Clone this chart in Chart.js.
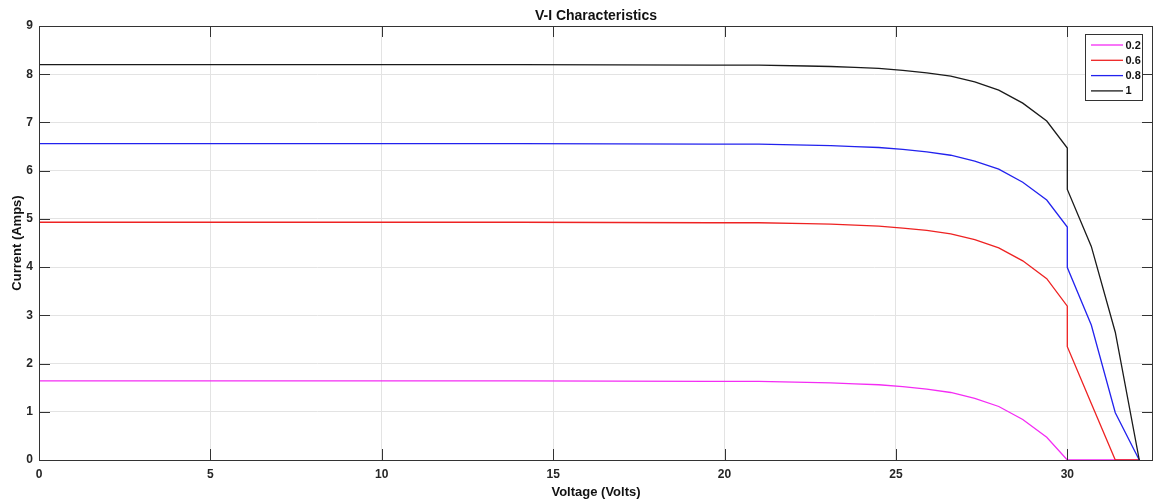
<!DOCTYPE html>
<html><head><meta charset="utf-8">
<script src="https://cdn.jsdelivr.net/npm/chart.js@4"></script>
<style>html,body{margin:0;padding:0;background:#fff}#wrap{width:1157px;height:501px;position:relative}</style>
</head><body><div id="wrap"><canvas id="c"></canvas></div>
<script>
// Voltage samples (V)
const voltage   = [0, 7, 14, 19.6, 21, 22.4, 23.1, 23.8, 24.5, 25.2, 25.9, 26.6, 27.3, 28, 28.7, 29.4, 30, 30, 30.7, 31.4, 32.1];
// Current (A) for each irradiance level
const current02 = [1.64, 1.64, 1.64, 1.63, 1.63, 1.61, 1.60, 1.58, 1.56, 1.52, 1.47, 1.40, 1.28, 1.11, 0.84, 0.47, 0, 0, 0, 0, 0];
const current06 = [4.93, 4.93, 4.93, 4.92, 4.92, 4.90, 4.89, 4.87, 4.85, 4.81, 4.76, 4.69, 4.57, 4.40, 4.13, 3.76, 3.19, 2.35, 1.17, 0, 0];
const current08 = [6.56, 6.56, 6.56, 6.55, 6.55, 6.53, 6.52, 6.50, 6.48, 6.44, 6.39, 6.32, 6.20, 6.03, 5.76, 5.39, 4.83, 3.99, 2.80, 0.98, 0];
const current10 = [8.20, 8.20, 8.20, 8.19, 8.19, 8.17, 8.16, 8.14, 8.12, 8.08, 8.03, 7.96, 7.84, 7.67, 7.40, 7.03, 6.47, 5.61, 4.43, 2.65, 0];
const seriesLabels = ['0.2', '0.6', '0.8', '1'];
const seriesColors = ['#f42cf4', '#ee2222', '#2222ee', '#1a1a1a'];
const xTicks = [0, 5, 10, 15, 20, 25, 30];
const yTicks = [0, 1, 2, 3, 4, 5, 6, 7, 8, 9];
const titleText = 'V-I Characteristics';
const xTitle = 'Voltage (Volts)';
const yTitle = 'Current (Amps)';

const FONT = '"Liberation Sans", Arial, Helvetica, sans-serif';
const AX = '#333333';
const allSeries = [current02, current06, current08, current10];

const datasets = allSeries.map((arr, i) => ({
  label: seriesLabels[i],
  data: voltage.map((v, k) => ({x: v, y: arr[k]})),
  borderColor: seriesColors[i],
  backgroundColor: seriesColors[i],
  borderWidth: 1.3,
  pointRadius: 0,
  tension: 0,
  fill: false,
  order: allSeries.length - i
}));

const decor = {
  id: 'decor',
  afterDraw(chart) {
    const ctx = chart.ctx, a = chart.chartArea;
    const xs = chart.scales.x, ys = chart.scales.y;
    ctx.save();
    // frame
    ctx.strokeStyle = AX; ctx.lineWidth = 1;
    ctx.strokeRect(Math.round(a.left) + 0.5, Math.round(a.top) + 0.5, Math.round(a.right - a.left) - 1, Math.round(a.bottom - a.top));
    // inward ticks
    const TL = 11;
    ctx.beginPath();
    xTicks.forEach(v => {
      const px = Math.round(xs.getPixelForValue(v)) + 0.5;
      ctx.moveTo(px, a.bottom); ctx.lineTo(px, a.bottom - TL);
      ctx.moveTo(px, a.top); ctx.lineTo(px, a.top + TL);
    });
    yTicks.forEach(v => {
      const py = Math.round(ys.getPixelForValue(v)) + 0.5;
      ctx.moveTo(a.left, py); ctx.lineTo(a.left + TL, py);
      ctx.moveTo(a.right, py); ctx.lineTo(a.right - TL, py);
    });
    ctx.stroke();
    // legend
    const lx = 1085.5, ly = 34.5, lw = 57, lh = 66;
    ctx.fillStyle = '#fff'; ctx.fillRect(lx, ly, lw, lh);
    ctx.strokeStyle = AX; ctx.strokeRect(lx, ly, lw, lh);
    ctx.font = 'bold 11px ' + FONT; ctx.textBaseline = 'middle'; ctx.textAlign = 'left';
    chart.data.datasets.forEach((ds, i) => {
      const ry = 45 + i * 15.3;
      ctx.strokeStyle = ds.borderColor; ctx.lineWidth = 1.3;
      ctx.beginPath(); ctx.moveTo(1091, ry); ctx.lineTo(1123, ry); ctx.stroke();
      ctx.fillStyle = '#111'; ctx.fillText(ds.label, 1125.5, ry + 0.5);
    });
    // titles
    ctx.fillStyle = '#111'; ctx.textAlign = 'center'; ctx.textBaseline = 'middle';
    const cx = (a.left + a.right) / 2;
    ctx.font = 'bold 14px ' + FONT;
    ctx.fillText(titleText, cx, 16);
    ctx.font = 'bold 13px ' + FONT;
    ctx.fillText(xTitle, cx, 492);
    ctx.translate(17, (a.top + a.bottom) / 2);
    ctx.rotate(-Math.PI / 2);
    ctx.fillText(yTitle, 0, 0);
    ctx.restore();
  }
};

new Chart(document.getElementById('c'), {
  type: 'line',
  data: {datasets},
  options: {
    responsive: true, maintainAspectRatio: false, animation: false,
    layout: {padding: {top: 26, right: 4, left: 0, bottom: 0}},
    plugins: {legend: {display: false}, tooltip: {enabled: false}, title: {display: false}},
    scales: {
      x: {
        type: 'linear', min: 0, max: 32.5,
        afterFit(s) { s.height = 41; },
        afterBuildTicks(s) { s.ticks = xTicks.map(v => ({value: v})); },
        grid: {color: '#e3e3e3', drawTicks: false, lineWidth: 1},
        border: {display: false},
        ticks: {color: '#262626', padding: 7, maxRotation: 0, font: {family: FONT, size: 12, weight: 'bold'}}
      },
      y: {
        type: 'linear', min: 0, max: 9,
        afterFit(s) { s.width = 39; },
        afterBuildTicks(s) { s.ticks = yTicks.map(v => ({value: v})); },
        grid: {color: '#e3e3e3', drawTicks: false, lineWidth: 1},
        border: {display: false},
        ticks: {color: '#262626', padding: 6, font: {family: FONT, size: 12, weight: 'bold'}}
      }
    }
  },
  plugins: [decor]
});
</script>
</body></html>
